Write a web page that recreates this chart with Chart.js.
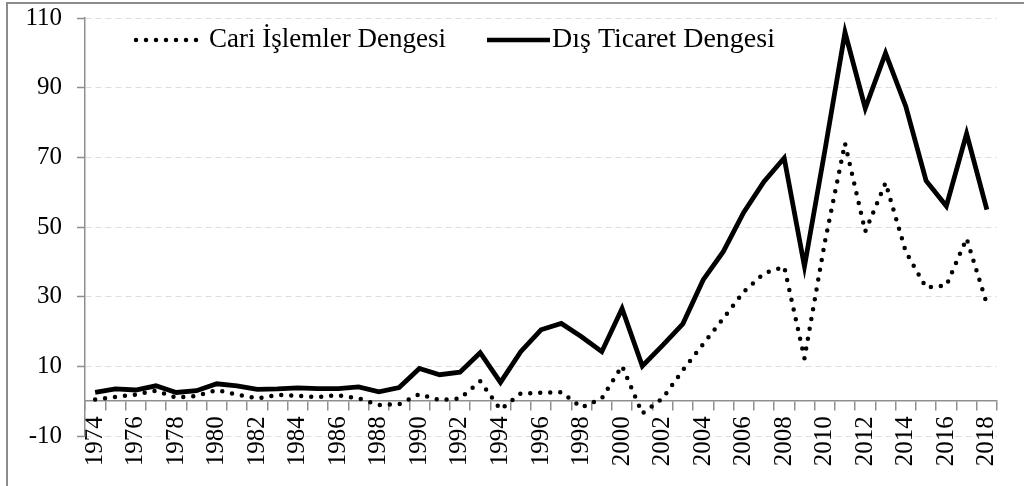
<!DOCTYPE html>
<html lang="tr">
<head>
<meta charset="utf-8">
<title>Cari İşlemler ve Dış Ticaret Dengesi</title>
<script src="https://cdn.jsdelivr.net/npm/chart.js@4/dist/chart.umd.min.js"></script>
<style>
    html, body { margin: 0; padding: 0; background: #fff; overflow: hidden; }
    #wrap { position: relative; width: 1024px; height: 486px; overflow: hidden; }
    #frame { position: absolute; left: 6px; top: 2px; width: 1100px; height: 600px;
             border-top: 2px solid #8c8c8c; border-left: 2px solid #8c8c8c; }
    #chart { position: absolute; left: 0; top: 0; }
</style>
</head>
<body>
<div id="wrap">
    <div id="frame"></div>
    <canvas id="chart" width="1024" height="486"></canvas>
</div>
<script>
// **Data**
const years = ["1974", "1975", "1976", "1977", "1978", "1979", "1980", "1981", "1982", "1983",
    "1984", "1985", "1986", "1987", "1988", "1989", "1990", "1991", "1992", "1993",
    "1994", "1995", "1996", "1997", "1998", "1999", "2000", "2001", "2002", "2003",
    "2004", "2005", "2006", "2007", "2008", "2009", "2010", "2011", "2012", "2013",
    "2014", "2015", "2016", "2017", "2018"];

const cariIslemler = [0.5, 1.2, 1.9, 3.0, 1.0, 1.5, 3.2, 1.9, 0.8, 1.8,
    1.5, 1.2, 1.7, 0.8, -1.1, -0.9, 2.0, 0.3, 0.8, 5.7,
    -2.4, 2.2, 2.4, 2.6, -1.8, 0.8, 10.1, -3.5, 0.8, 8.9,
    16.4, 23.8, 31.4, 36.7, 38.6, 12.3, 45.5, 74.0, 48.7, 62.7,
    42.9, 32.6, 33.2, 46.7, 27.9];

const disTicaret = [2.5, 3.5, 3.2, 4.4, 2.5, 3.0, 5.0, 4.4, 3.4, 3.5,
    3.8, 3.6, 3.6, 4.1, 2.7, 3.9, 9.4, 7.6, 8.3, 13.9,
    5.4, 14.2, 20.5, 22.3, 18.5, 14.2, 26.6, 10.1, 16.0, 22.2,
    34.8, 43.0, 54.2, 63.0, 69.8, 38.7, 71.7, 105.9, 84.1, 99.9,
    84.6, 63.3, 56.0, 76.8, 55.0];

const seriesNames = ["Cari İşlemler Dengesi", "Dış Ticaret Dengesi"];
const yTicks = { min: -10, max: 110, step: 20 };

const FONT = "'Liberation Serif', 'Times New Roman', serif";
const AXIS_GRAY = "#8f8f8f";

// **Legend drawn inside the plot area**
const insideLegend = {
    id: "insideLegend",
    afterDraw(chart) {
        let ctx = chart.ctx;
        let a = chart.chartArea;
        let y = a.top + 22;
        ctx.save();

        // dotted sample
        ctx.strokeStyle = "#000";
        ctx.lineCap = "round";
        ctx.lineWidth = 4.5;
        ctx.setLineDash([0, 10]);
        ctx.beginPath();
        ctx.moveTo(a.left + 51, y);
        ctx.lineTo(a.left + 112, y);
        ctx.stroke();

        // solid sample
        ctx.setLineDash([]);
        ctx.lineCap = "butt";
        ctx.lineWidth = 4.5;
        ctx.beginPath();
        ctx.moveTo(a.left + 402, y);
        ctx.lineTo(a.left + 465, y);
        ctx.stroke();

        ctx.fillStyle = "#000";
        ctx.font = "27px " + FONT;
        ctx.textBaseline = "middle";
        ctx.fillText(seriesNames[0], a.left + 124, y);
        ctx.font = "28px " + FONT;
        ctx.fillText(seriesNames[1], a.left + 467, y);
        ctx.restore();
    }
};

// **Chart**
function drawChart() {
    let ctx = document.getElementById("chart").getContext("2d");

    new Chart(ctx, {
        type: "line",
        data: {
            labels: years,
            datasets: [
                {
                    label: seriesNames[0],
                    data: cariIslemler,
                    borderColor: "#000",
                    borderWidth: 4.5,
                    borderDash: [0, 10],
                    borderCapStyle: "round",
                    borderJoinStyle: "round",
                    pointRadius: 0,
                    tension: 0,
                    fill: false
                },
                {
                    label: seriesNames[1],
                    data: disTicaret,
                    borderColor: "#000",
                    borderWidth: 4.8,
                    borderJoinStyle: "miter",
                    pointRadius: 0,
                    tension: 0,
                    fill: false
                }
            ]
        },
        options: {
            responsive: false,
            animation: false,
            devicePixelRatio: 1,
            layout: { padding: { left: 0, right: 27, top: 18, bottom: 50 } },
            plugins: {
                legend: { display: false },
                title: { display: false },
                tooltip: { enabled: false }
            },
            scales: {
                x: {
                    type: "category",
                    position: { y: 0 },
                    offset: true,
                    grid: {
                        offset: true,
                        drawOnChartArea: false,
                        drawTicks: true,
                        tickLength: 9,
                        color: AXIS_GRAY,
                        tickColor: AXIS_GRAY,
                        lineWidth: 1.5,
                        tickWidth: 1.5
                    },
                    border: { display: true, color: AXIS_GRAY, width: 1.5 },
                    ticks: {
                        autoSkip: false,
                        minRotation: 90,
                        maxRotation: 90,
                        padding: 6,
                        color: "#000",
                        font: { family: FONT, size: 25 },
                        callback: function (val, index) {
                            return index % 2 === 0 ? this.getLabelForValue(val) : "";
                        }
                    },
                    afterFit: function (scale) {
                        scale.paddingLeft = 0;
                        scale.paddingRight = 0;
                    }
                },
                y: {
                    min: yTicks.min,
                    max: yTicks.max,
                    grid: {
                        color: "#dedede",
                        lineWidth: 1,
                        drawTicks: true,
                        tickLength: 8,
                        tickColor: AXIS_GRAY,
                        tickWidth: 1.5,
                        tickBorderDash: []
                    },
                    border: { display: true, color: AXIS_GRAY, width: 1.5, dash: [6, 4] },
                    ticks: {
                        stepSize: yTicks.step,
                        padding: 15,
                        color: "#000",
                        font: { family: FONT, size: 25 }
                    },
                    afterFit: function (scale) {
                        scale.width = 85;
                        scale.paddingTop = 0;
                        scale.paddingBottom = 0;
                    }
                }
            }
        },
        plugins: [insideLegend]
    });
}

document.addEventListener("DOMContentLoaded", function () {
    drawChart();
});
</script>
</body>
</html>
